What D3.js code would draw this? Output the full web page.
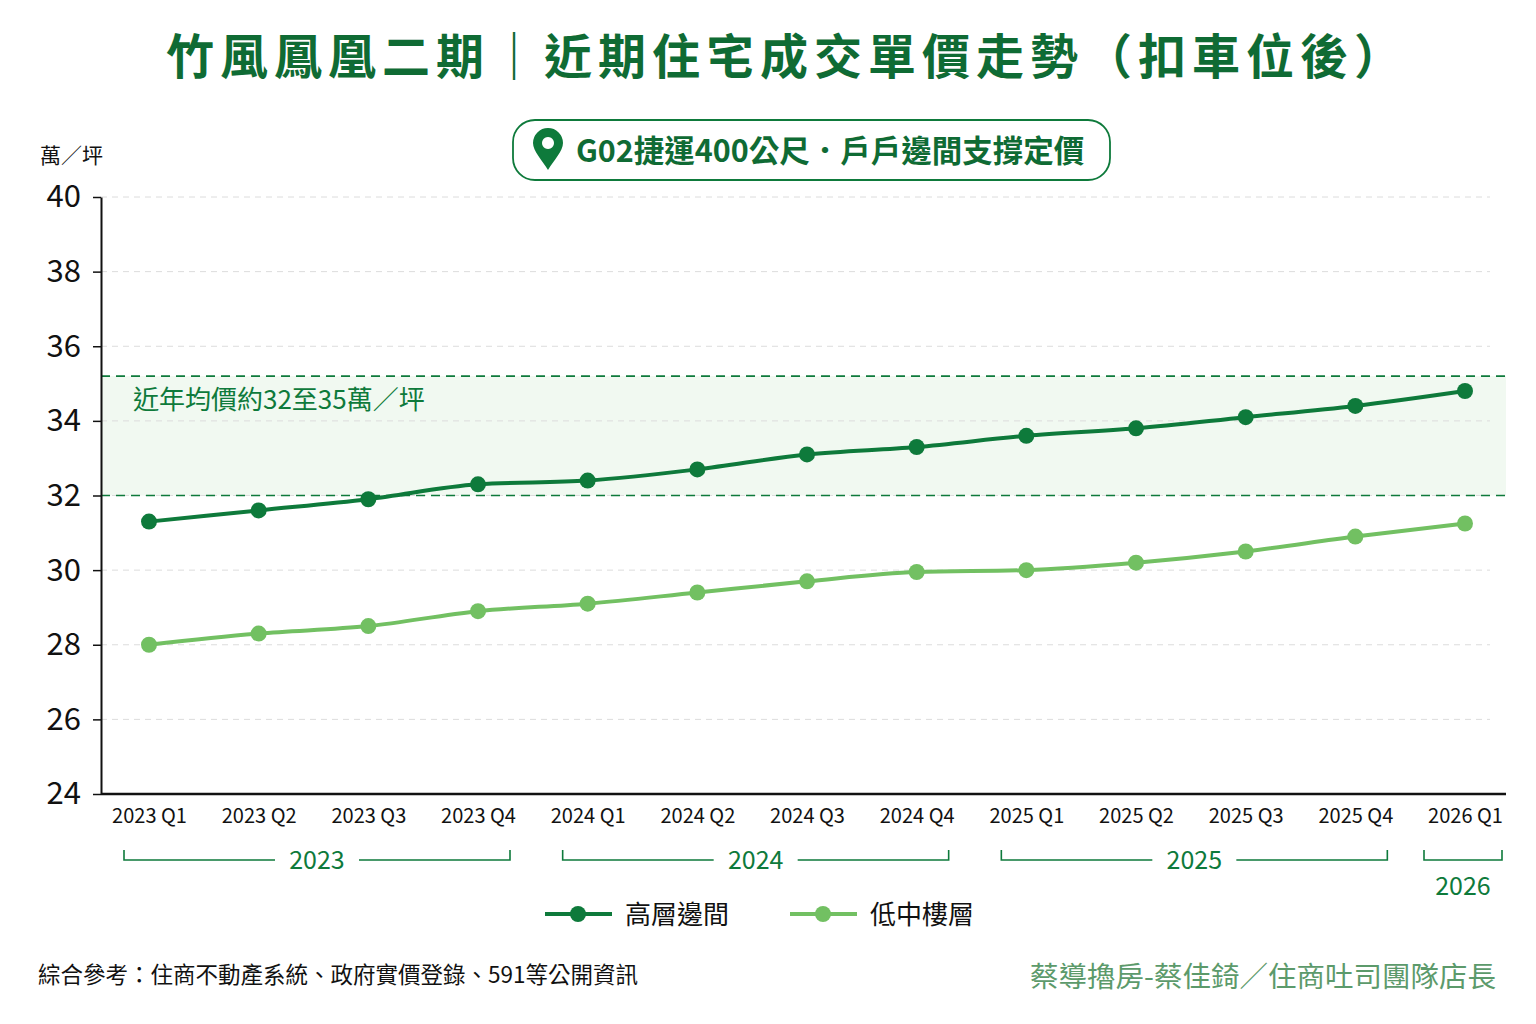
<!DOCTYPE html>
<html>
<head>
<meta charset="utf-8">
<script src="https://cdn.jsdelivr.net/npm/d3@7"></script>
<style>
  body { margin: 0; background: #fff; }
  text { font-family: "Noto Sans CJK TC", "Noto Sans", sans-serif; }
</style>
</head>
<body>
<div id="chart"></div>
<script>
// 資料
const quarters = ["2023 Q1", "2023 Q2", "2023 Q3", "2023 Q4",
                  "2024 Q1", "2024 Q2", "2024 Q3", "2024 Q4",
                  "2025 Q1", "2025 Q2", "2025 Q3", "2025 Q4", "2026 Q1"];
const highFloor = [31.3, 31.6, 31.9, 32.3, 32.4, 32.7, 33.1, 33.3, 33.6, 33.8, 34.1, 34.4, 34.8];
const lowMidFloor = [28.0, 28.3, 28.5, 28.9, 29.1, 29.4, 29.7, 29.95, 30.0, 30.2, 30.5, 30.9, 31.25];
const yTicks = [24, 26, 28, 30, 32, 34, 36, 38, 40];
const years = ["2023", "2024", "2025", "2026"];
const band = [32, 35.2];
const seriesNames = ["高層邊間", "低中樓層"];

const W = 1536, H = 1024;
const margin = { top: 197, right: 30, bottom: 230, left: 101 },
      width = W - margin.left - margin.right,
      height = H - margin.top - margin.bottom;

const dark = "#0e7a3b", light = "#72c062", titleGreen = "#0f6b34";

const root = d3.select("#chart").append("svg")
    .attr("width", W).attr("height", H);

// 標題
root.append("text")
    .attr("x", W / 2 + 19).attr("y", 74)
    .attr("text-anchor", "middle")
    .style("font-size", "48px").style("font-weight", "bold")
    .style("letter-spacing", "6px")
    .style("fill", titleGreen)
    .text("竹風鳳凰二期｜近期住宅成交單價走勢（扣車位後）");

// 標籤框
const badge = root.append("g").attr("transform", "translate(513,120)");
badge.append("rect")
    .attr("width", 597).attr("height", 60).attr("rx", 22)
    .attr("fill", "#fff").attr("stroke", dark).attr("stroke-width", 1.8);
badge.append("path")
    .attr("d", "M35,50 C29,40 20,31 20,23 A15,15 0 0 1 50,23 C50,31 41,40 35,50 Z M35,17 a6,6 0 1 0 0.01,0 Z")
    .attr("fill", dark).attr("fill-rule", "evenodd");
badge.append("text")
    .attr("x", 63).attr("y", 42)
    .style("font-size", "30.5px").style("font-weight", "bold")
    .style("fill", titleGreen)
    .text("G02捷運400公尺．戶戶邊間支撐定價");

// 單位
root.append("text")
    .attr("x", 40).attr("y", 163)
    .style("font-size", "21px").style("fill", "#111")
    .text("萬／坪");

const svg = root.append("g")
    .attr("transform", `translate(${margin.left},${margin.top})`);

const x = d3.scalePoint().domain(quarters).range([48, 1364]);
const y = d3.scaleLinear().domain([24, 40]).range([height, 0]);

// 區間底色
svg.append("rect")
    .attr("x", 0).attr("y", y(band[1]))
    .attr("width", width).attr("height", y(band[0]) - y(band[1]))
    .attr("fill", "#eef7ee").attr("opacity", 0.8);

// 格線
svg.selectAll(".grid")
    .data(yTicks.filter(d => d > 24))
    .enter().append("line")
    .attr("x1", 0).attr("x2", width - 16)
    .attr("y1", d => y(d)).attr("y2", d => y(d))
    .attr("stroke", "#dcdcdc").attr("stroke-width", 1)
    .attr("stroke-dasharray", "6,5");

// 區間虛線
svg.selectAll(".bandLine")
    .data(band)
    .enter().append("line")
    .attr("x1", 0).attr("x2", width)
    .attr("y1", d => y(d)).attr("y2", d => y(d))
    .attr("stroke", dark).attr("stroke-width", 1.6)
    .attr("stroke-dasharray", "9,6");

svg.append("text")
    .attr("x", 32).attr("y", y(band[1]) + 33)
    .style("font-size", "26px").style("fill", dark)
    .text("近年均價約32至35萬／坪");

// 折線
const line = d3.line()
    .x((d, i) => x(quarters[i]))
    .y(d => y(d))
    .curve(d3.curveMonotoneX);

[[highFloor, dark], [lowMidFloor, light]].forEach(([vals, color]) => {
    svg.append("path")
        .datum(vals)
        .attr("fill", "none")
        .attr("stroke", color).attr("stroke-width", 4)
        .attr("d", line);
    svg.selectAll(null)
        .data(vals)
        .enter().append("circle")
        .attr("cx", (d, i) => x(quarters[i]))
        .attr("cy", d => y(d))
        .attr("r", 8)
        .attr("fill", color);
});

// Y軸
const yAxis = svg.append("g")
    .call(d3.axisLeft(y).tickValues(yTicks).tickSize(8).tickSizeOuter(0).tickPadding(12));
yAxis.select(".domain").attr("stroke", "#111").attr("stroke-width", 2);
yAxis.selectAll(".tick line").attr("stroke", "#111").attr("stroke-width", 1.5);
yAxis.selectAll("text")
    .attr("font-family", null)
    .style("font-size", "31px").style("fill", "#111");

// X軸
svg.append("line")
    .attr("x1", 0).attr("x2", width)
    .attr("y1", height).attr("y2", height)
    .attr("stroke", "#111").attr("stroke-width", 2.5);

const xAxis = svg.append("g")
    .attr("transform", `translate(0,${height})`)
    .call(d3.axisBottom(x).tickSize(0).tickPadding(15));
xAxis.select(".domain").remove();
xAxis.selectAll("text")
    .attr("font-family", null)
    .style("font-size", "20px").style("fill", "#111");

// 年份括號
const bracketY = height + 66;
years.forEach(yr => {
    const qs = quarters.filter(q => q.startsWith(yr));
    const single = qs.length === 1;
    const x0 = x(qs[0]) - (single ? 41 : 25);
    const x1 = x(qs[qs.length - 1]) + (single ? 37 : 32);
    const g = svg.append("g");
    g.append("path")
        .attr("d", `M${x0},${bracketY - 10}V${bracketY}H${x1}V${bracketY - 10}`)
        .attr("fill", "none").attr("stroke", dark).attr("stroke-width", 1.6);
    if (!single) {
        const cx = (x0 + x1) / 2;
        g.append("rect")
            .attr("x", cx - 42).attr("y", bracketY - 6)
            .attr("width", 84).attr("height", 12).attr("fill", "#fff");
        g.append("text")
            .attr("x", cx).attr("y", bracketY + 9)
            .attr("text-anchor", "middle")
            .style("font-size", "25px").style("fill", dark)
            .text(yr);
    } else {
        g.append("text")
            .attr("x", x(qs[0]) - 2).attr("y", bracketY + 35)
            .attr("text-anchor", "middle")
            .style("font-size", "25px").style("fill", dark)
            .text(yr);
    }
});

// 圖例
const legend = root.append("g").attr("transform", "translate(545,914)");
[[seriesNames[0], dark, 0], [seriesNames[1], light, 245]].forEach(([name, color, dx]) => {
    const lg = legend.append("g").attr("transform", `translate(${dx},0)`);
    lg.append("line").attr("x1", 0).attr("x2", 67)
        .attr("stroke", color).attr("stroke-width", 4);
    lg.append("circle").attr("cx", 33).attr("r", 8).attr("fill", color);
    lg.append("text")
        .attr("x", 80).attr("y", 10)
        .style("font-size", "26px").style("fill", "#111")
        .text(name);
});

// 註腳
root.append("text")
    .attr("x", 38).attr("y", 983)
    .style("font-size", "22.5px").style("fill", "#111")
    .text("綜合參考：住商不動產系統、政府實價登錄、591等公開資訊");

root.append("text")
    .attr("x", 1496).attr("y", 987)
    .attr("text-anchor", "end")
    .style("font-size", "28.5px").style("fill", "#5c9a6b")
    .text("蔡導擼房-蔡佳錡／住商吐司團隊店長");
</script>
</body>
</html>
